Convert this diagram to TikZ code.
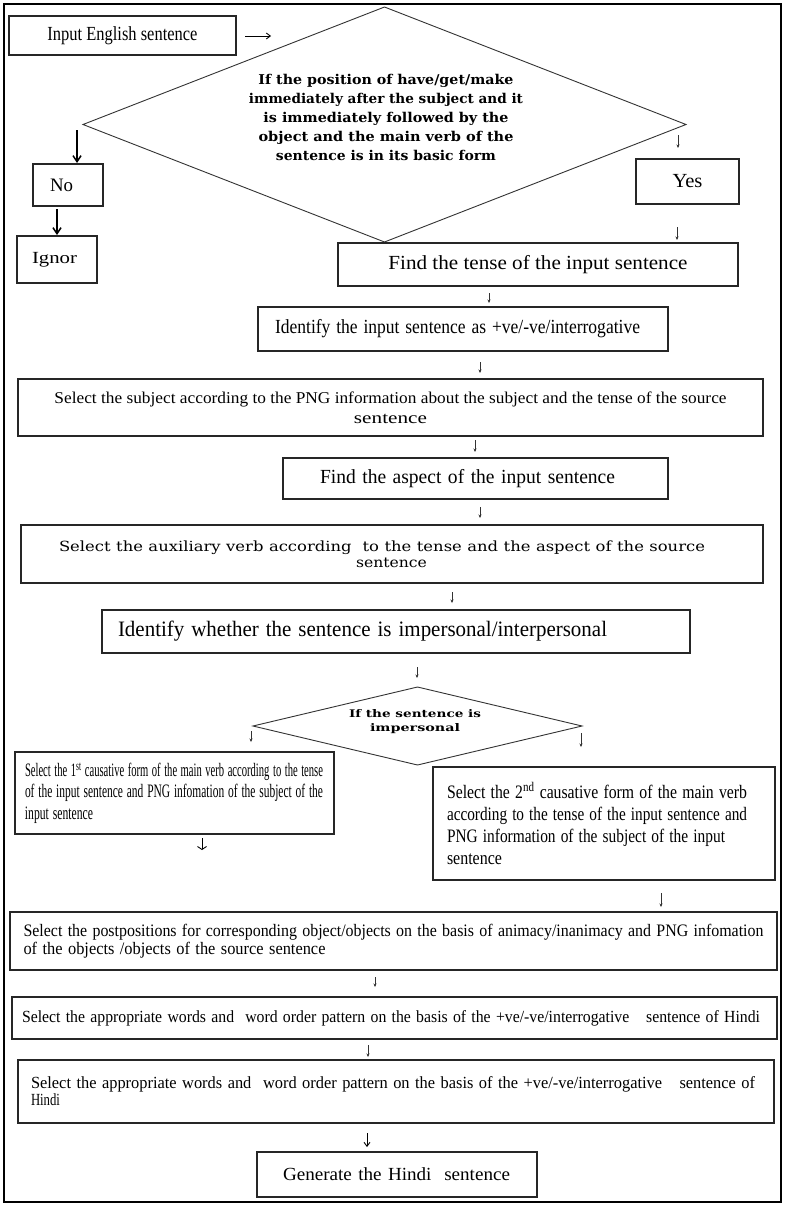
\documentclass[tikz,border=0pt]{standalone}
\usepackage{fontspec}
\setmainfont{Liberation Serif}
\newfontfamily\dejaserif{DejaVu Serif}
\usepackage{graphicx}
\usetikzlibrary{arrows.meta,shapes.geometric}
\newcommand{\fl}[2]{\resizebox{#1pt}{\height}{#2}}
\begin{document}
\begin{tikzpicture}[x=1pt,y=-1pt,
  box/.style={draw=black!85, line width=1.1pt, rectangle, inner sep=0pt, outer sep=0pt, anchor=north west},
  lbx/.style={box, align=left},
  dia/.style={draw=black!80, line width=0.9pt, diamond, inner sep=0pt, outer sep=0pt},
  dtxt/.style={inner sep=0pt, align=center},
  tarr/.style={line width=0.5pt, draw=black!80, -{Stealth[length=3.5pt,width=3pt]}},
  marr/.style={line width=0.9pt, draw=black, -{Straight Barb[length=4pt,width=6pt]}},
  barr/.style={line width=1.5pt, draw=black, -{Straight Barb[length=6pt,width=8pt]}},
  warr/.style={line width=0.9pt, draw=black, -{Straight Barb[length=3pt,width=9pt]}}
]
\fill[white] (0,0) rectangle (785,1207);
\useasboundingbox (0,0) rectangle (785,1207);
\draw[line width=2.6pt] (4,4) rectangle (781,1202);

% top
\node[box, minimum width=227pt, minimum height=39pt, font=\fontsize{20}{22}\selectfont] (input) at (9,16) {\fl{150}{Input English sentence}};
\node[dia, minimum width=603pt, minimum height=235pt] (d1) at (384.5,124.5) {};
\node[dtxt, font=\dejaserif\bfseries\fontsize{13.5}{19}\selectfont] (d1t) at (386,117) {\fl{255}{If the position of have/get/make}\\\fl{274}{immediately after the subject and it}\\\fl{245}{is immediately followed by the}\\\fl{255}{object and the main verb of the}\\\fl{220}{sentence is in its basic form}};
\node[lbx, minimum width=70pt, minimum height=42pt, inner xsep=17pt, text width=36pt, font=\fontsize{19}{21}\selectfont] (no) at (33,164) {\fl{23}{No}};
\node[lbx, minimum width=80pt, minimum height=47pt, inner xsep=15pt, text width=50pt, font=\fontsize{17}{19}\selectfont] (ignor) at (17,236) {\fl{45}{Ignor}};
\node[box, minimum width=103pt, minimum height=45pt, font=\fontsize{20}{22}\selectfont] (yes) at (636,159) {\fl{30}{Yes}};

% main column
\node[box, minimum width=400pt, minimum height=43pt, font=\fontsize{20}{22}\selectfont] (tense) at (338,243) {\fl{299}{Find the tense of the input sentence}};
\node[lbx, minimum width=410pt, minimum height=44pt, inner xsep=17pt, text width=376pt, font=\fontsize{20}{22}\selectfont] (ident) at (258,307) {\fl{365}{Identify the input sentence as +ve/-ve/interrogative}};
\node[box, align=center, minimum width=745pt, minimum height=57pt, font=\fontsize{16.5}{20}\selectfont] (subj) at (18,379) {\fl{672}{Select the subject according to the PNG information about the subject and the tense of the source}\\\fl{73}{sentence}};
\node[lbx, minimum width=385pt, minimum height=41pt, inner xsep=37pt, text width=311pt, font=\fontsize{20}{22}\selectfont] (aspect) at (283,458) {\fl{295}{Find the aspect of the input sentence}};
\node[lbx, minimum width=742pt, minimum height=58pt, inner xsep=38pt, text width=666pt, font=\dejaserif\fontsize{14}{16}\selectfont] (aux) at (21,525) {\fl{646}{Select the auxiliary verb according\ \ to the tense and the aspect of the source}\\\hspace*{297pt}\fl{71}{sentence}};
\node[lbx, minimum width=588pt, minimum height=43pt, inner xsep=16pt, text width=556pt, font=\fontsize{22}{24}\selectfont] (iw) at (102,610) {\fl{489}{Identify whether the sentence is impersonal/interpersonal}};

\node[dia, minimum width=329pt, minimum height=78pt] (d2) at (417.5,726) {};
\node[dtxt, font=\dejaserif\bfseries\fontsize{10.5}{14}\selectfont] (d2t) at (415,722) {\fl{132}{If the sentence is}\\\fl{90}{impersonal}};

\node[lbx, minimum width=319pt, minimum height=82pt, inner xsep=10pt, text width=299pt, font=\fontsize{19}{21.5}\selectfont] (lbox) at (15,752) {\fl{298}{Select the 1\textsuperscript{st} causative form of the main verb according to the tense}\\\fl{298}{of the input sentence and PNG infomation of the subject of the}\\\fl{68}{input sentence}};
\node[lbx, minimum width=342pt, minimum height=113pt, inner xsep=14pt, text width=314pt, font=\fontsize{19}{22}\selectfont] (rbox) at (433,767) {\fl{300}{Select the 2\textsuperscript{nd} causative form of the main verb}\\\fl{300}{according to the tense of the input sentence and}\\\fl{278}{PNG information of the subject of the input}\\\fl{55}{sentence}};

\node[lbx, minimum width=767pt, minimum height=58pt, inner xsep=13.5pt, text width=740pt, font=\fontsize{17.5}{18.5}\selectfont] (post) at (10,912) {\fl{740}{Select the postpositions for corresponding object/objects on the basis of animacy/inanimacy and PNG infomation}\\\fl{302}{of the objects /objects of the source sentence}};
\node[lbx, minimum width=765pt, minimum height=42pt, inner xsep=10pt, text width=745pt, font=\fontsize{17}{18}\selectfont] (hindi1) at (12,997) {\fl{738}{Select\ the appropriate words and\hspace{12pt}word order pattern on the basis of the +ve/-ve/interrogative\hspace{18pt}sentence of Hindi}};
\node[lbx, minimum width=756pt, minimum height=63pt, inner xsep=13pt, text width=730pt, font=\fontsize{17}{17}\selectfont] (hindi2) at (18,1060) {\fl{724}{Select\ the appropriate words and\hspace{12pt}word order pattern on the basis of the +ve/-ve/interrogative\hspace{18pt}sentence of}\\\fl{29}{Hindi}};
\node[lbx, minimum width=280pt, minimum height=45pt, inner xsep=26pt, text width=228pt, font=\fontsize{18.5}{20}\selectfont] (gen) at (257,1152) {\fl{227}{Generate the Hindi\ \ sentence}};

% arrow end points
\coordinate (a1s) at (245,36);   \coordinate (a1e) at (271,36);
\coordinate (a2s) at (77,130);   \coordinate (a2e) at (77,163);
\coordinate (a3s) at (57,209);   \coordinate (a3e) at (57,235);
\coordinate (a4s) at (678,135);  \coordinate (a4e) at (678,148);
\coordinate (a5s) at (677,227);  \coordinate (a5e) at (677,240);
\coordinate (a6s) at (489,293);  \coordinate (a6e) at (489,303);
\coordinate (a7s) at (480,362);  \coordinate (a7e) at (480,373);
\coordinate (a8s) at (475,440);  \coordinate (a8e) at (475,452);
\coordinate (a9s) at (480,507);  \coordinate (a9e) at (480,518);
\coordinate (a10s) at (452,592); \coordinate (a10e) at (452,603);
\coordinate (a11s) at (417,667); \coordinate (a11e) at (417,678);
\coordinate (a12s) at (251,731); \coordinate (a12e) at (251,742);
\coordinate (a13s) at (581,733); \coordinate (a13e) at (581,747);
\coordinate (a14s) at (202,838); \coordinate (a14e) at (202,850);
\coordinate (a15s) at (661,893); \coordinate (a15e) at (661,907);
\coordinate (a16s) at (375,977); \coordinate (a16e) at (375,987);
\coordinate (a17s) at (368,1045); \coordinate (a17e) at (368,1057);
\coordinate (a18s) at (367,1133); \coordinate (a18e) at (367,1147);

\draw[marr] (a1s) -- (a1e);
\draw[barr] (a2s) -- (a2e);
\draw[barr] (a3s) -- (a3e);
\draw[tarr] (a4s) -- (a4e);
\draw[tarr] (a5s) -- (a5e);
\draw[tarr] (a6s) -- (a6e);
\draw[tarr] (a7s) -- (a7e);
\draw[tarr] (a8s) -- (a8e);
\draw[tarr] (a9s) -- (a9e);
\draw[tarr] (a10s) -- (a10e);
\draw[tarr] (a11s) -- (a11e);
\draw[tarr] (a12s) -- (a12e);
\draw[tarr] (a13s) -- (a13e);
\draw[warr] (a14s) -- (a14e);
\draw[tarr] (a15s) -- (a15e);
\draw[tarr] (a16s) -- (a16e);
\draw[tarr] (a17s) -- (a17e);
\draw[marr] (a18s) -- (a18e);
\end{tikzpicture}
\end{document}
